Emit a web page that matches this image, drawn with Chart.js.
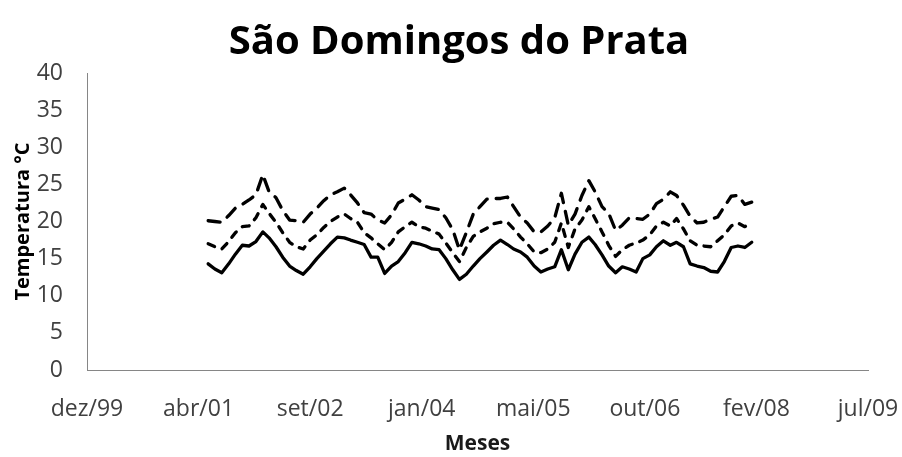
<!DOCTYPE html>
<html>
<head>
<meta charset="utf-8">
<script src="https://cdn.jsdelivr.net/npm/chart.js@4/dist/chart.umd.min.js"></script>
<style>
  html, body { margin: 0; padding: 0; background: #fff; }
  #wrap { width: 902px; height: 457px; }
</style>
</head>
<body>
<div id="wrap"><canvas id="myChart" width="902" height="457"></canvas></div>
<script>
// monthly series, first month jun/2001 (month index 5), last fev/2008
const firstYear = 2001;
const firstMonth = 5;

const serieMin = [
  14.3, 13.6, 13.1, 14.3, 15.6, 16.8, 16.7, 17.3, 18.6, 17.8, 16.6, 15.2,
  14.0, 13.4, 12.9, 13.9, 15.0, 16.0, 17.0, 17.9, 17.8, 17.5, 17.2, 16.9,
  15.2, 15.2, 13.0, 14.0, 14.6, 15.8, 17.2, 17.0, 16.7, 16.3, 16.2, 15.0,
  13.5, 12.2, 12.9, 14.0, 15.0, 15.9, 16.8, 17.5, 16.9, 16.3, 15.9, 15.2,
  14.0, 13.2, 13.6, 13.9, 16.2, 13.5, 15.6, 17.2, 17.9, 16.9, 15.5, 14.0,
  13.1, 13.9, 13.6, 13.2, 15.0, 15.5, 16.6, 17.4, 16.8, 17.2, 16.6, 14.3,
  14.0, 13.8, 13.3, 13.2, 14.6, 16.5, 16.7, 16.5, 17.2
];
const serieMed = [
  17.0, 16.6, 16.3, 17.3, 18.5, 19.3, 19.4, 20.5, 22.3, 21.1, 19.9, 18.5,
  17.2, 16.6, 16.3, 17.5, 18.2, 19.2, 20.0, 20.6, 21.0, 20.4, 19.9, 18.5,
  17.8, 17.0, 16.2, 17.2, 18.6, 19.3, 19.9, 19.3, 19.1, 18.7, 18.3, 17.1,
  15.8, 14.6, 16.5, 18.0, 18.6, 19.1, 19.7, 19.9, 19.9, 19.0, 17.9, 17.0,
  15.9, 15.8, 16.3, 17.2, 19.8, 16.5, 19.0, 20.2, 22.0, 20.4, 18.6, 16.8,
  15.3, 16.2, 16.8, 17.1, 17.5, 18.2, 19.4, 19.9, 19.4, 20.4, 19.0, 17.4,
  16.8, 16.7, 16.6, 17.4, 18.2, 19.4, 19.8, 19.3, 19.9
];
const serieMax = [
  20.1, 20.0, 19.9, 20.8, 21.8, 22.3, 22.9, 23.6, 26.3, 24.0, 23.2, 21.5,
  20.2, 20.1, 19.9, 21.0, 21.8, 22.8, 23.6, 24.0, 24.5, 23.6, 22.5, 21.2,
  21.0, 20.2, 19.8, 20.9, 22.5, 23.0, 23.6, 22.9, 22.0, 21.8, 21.6, 20.5,
  18.9, 16.2, 18.5, 21.0, 22.0, 23.0, 23.1, 23.1, 23.3, 22.0, 20.6, 19.8,
  18.6, 18.6, 19.4, 20.5, 23.8, 19.5, 21.0, 23.5, 25.5, 24.0, 22.0, 21.1,
  18.8, 19.5, 20.5, 20.4, 20.3, 21.0, 22.4, 23.0, 24.0, 23.5, 22.2, 20.7,
  19.8, 19.9, 20.3, 20.6, 22.0, 23.4, 23.5, 22.3, 22.6
];

const mesesPt = ['jan', 'fev', 'mar', 'abr', 'mai', 'jun', 'jul', 'ago', 'set', 'out', 'nov', 'dez'];

// excel style day serial numbers, the axis in the original is a date axis
const base = Date.UTC(1899, 11, 30);
function serial(y, m) {
  return Math.round((Date.UTC(y, m, 1) - base) / 86400000);
}
function label(v) {
  const d = new Date(base + v * 86400000);
  return mesesPt[d.getUTCMonth()] + '/' + String(d.getUTCFullYear()).slice(2);
}

const dias = serieMin.map((v, i) => serial(firstYear, firstMonth + i));
const pts = arr => arr.map((v, i) => ({ x: dias[i], y: v }));

const txt = '#404040';
const fam = "'Open Sans', sans-serif";

function lineSet(name, values, dash) {
  return {
    label: name,
    data: pts(values),
    borderColor: '#000',
    borderWidth: 3.3,
    borderDash: dash,
    borderCapStyle: 'round',
    borderJoinStyle: 'round',
    pointRadius: 0,
    fill: false,
    tension: 0
  };
}

// the title in the original sits a bit right of the canvas centre
const shiftTitle = {
  id: 'shiftTitle',
  afterLayout(chart) {
    if (chart.titleBlock) {
      chart.titleBlock.left += 25;
      chart.titleBlock.right += 25;
    }
  }
};

const ctx = document.getElementById('myChart').getContext('2d');
new Chart(ctx, {
  type: 'line',
  data: {
    datasets: [
      lineSet('Mínima', serieMin, []),
      lineSet('Média', serieMed, [7, 8]),
      lineSet('Máxima', serieMax, [12, 9])
    ]
  },
  plugins: [shiftTitle],
  options: {
    responsive: false,
    animation: false,
    layout: { padding: { left: 0, right: 34, top: 0, bottom: 0 } },
    plugins: {
      legend: { display: false },
      tooltip: { enabled: false },
      title: {
        display: true,
        text: 'São Domingos do Prata',
        color: '#000',
        font: { family: fam, size: 40, weight: 'bold' },
        padding: { top: 19, bottom: 6 }
      }
    },
    scales: {
      x: {
        type: 'linear',
        min: 36500,
        max: 40000,
        afterFit: s => {
          s.height = 87;
          s.paddingLeft = 0;
          s.paddingRight = 0;
        },
        grid: { display: false, drawTicks: false },
        border: { display: true, color: '#868686', width: 1 },
        ticks: {
          stepSize: 500,
          autoSkip: false,
          maxRotation: 0,
          padding: 26,
          color: txt,
          font: { family: fam, size: 23 },
          callback: v => label(v)
        },
        title: {
          display: true,
          text: 'Meses',
          color: '#1a1a1a',
          font: { family: fam, size: 21, weight: 'bold' },
          padding: { top: 0, bottom: 0 }
        }
      },
      y: {
        min: 0,
        max: 40,
        afterFit: s => { s.width = 87; },
        grid: { display: false, drawTicks: false },
        border: { display: true, color: '#868686', width: 1 },
        ticks: {
          stepSize: 5,
          padding: 24,
          color: txt,
          font: { family: fam, size: 23 }
        },
        title: {
          display: true,
          text: 'Temperatura °C',
          color: '#000',
          font: { family: fam, size: 20, weight: 'bold' },
          padding: { top: 11, bottom: 0 }
        }
      }
    }
  }
});
</script>
</body>
</html>
